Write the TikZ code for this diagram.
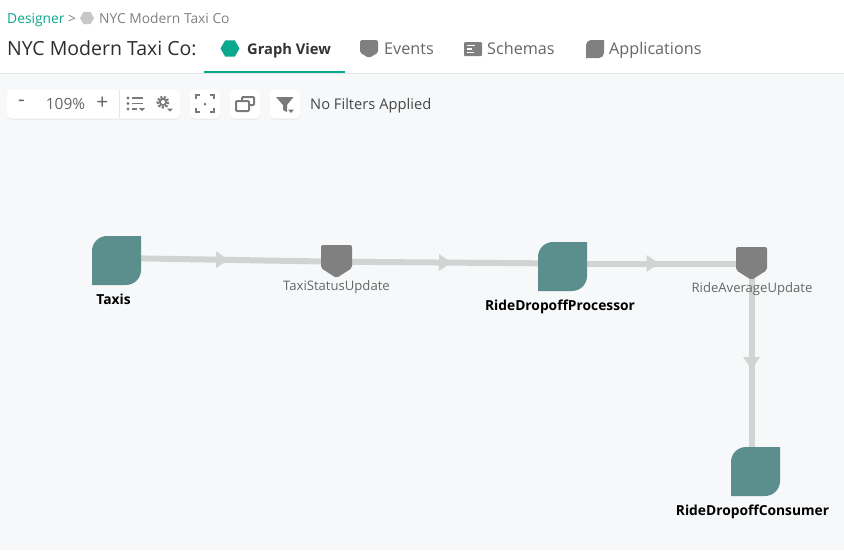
\documentclass[tikz,border=0pt]{standalone}
\usepackage{fontspec}
\setmainfont{Open Sans}
\usetikzlibrary{calc,shapes.geometric,shadows,decorations.markings}

\definecolor{appteal}{HTML}{5B8F8D}
\definecolor{brandteal}{HTML}{0AA88E}
\definecolor{wiregray}{HTML}{D2D4D4}
\definecolor{iconfill}{HTML}{808080}
\definecolor{pagegray}{HTML}{F6F8FA}
\definecolor{rulegray}{HTML}{E4E6E6}
\definecolor{tabtext}{HTML}{666666}
\definecolor{toolicon}{HTML}{7A7A7A}

\tikzset{
    appnode/.style={minimum size=49pt, inner sep=0pt, outer sep=0pt},
    eventnode/.style={minimum width=31pt, minimum height=33pt, inner sep=0pt, outer sep=0pt},
    applabel/.style={font=\fontsize{13.8}{16}\selectfont\bfseries, text=black, inner sep=0pt, anchor=base},
    eventlabel/.style={font=\fontsize{13.1}{15}\selectfont, text=tabtext, inner sep=0pt, anchor=base},
    crumblabel/.style={font=\fontsize{13.8}{16}\selectfont, text=iconfill, inner sep=0pt, anchor=base west},
    tablabel/.style={font=\fontsize{16.2}{19}\selectfont, text=tabtext, inner sep=0pt, anchor=base west},
    iconbox/.style={minimum size=18pt, inner sep=0pt, outer sep=0pt},
    toolbox/.style={fill=white, rounded corners=4pt, minimum height=29pt, inner sep=0pt,
        drop shadow={opacity=.14, shadow xshift=0pt, shadow yshift=-1pt}},
    toolglyph/.style={font=\fontsize{15.5}{18}\selectfont, text=tabtext, inner sep=0pt},
    wire/.style={draw=wiregray, line width=6pt,
        postaction={decorate, decoration={markings, mark=at position .5 with {
            \fill[wiregray] (-10.5pt,-8.5pt) -- (2pt,0pt) -- (-10.5pt,8.5pt) -- cycle;}}}}
}

% #1 colour, #2 node, #3 corner radius
\newcommand{\appleaf}[3][appteal]{
    \fill[#1] (#2.south west) [rounded corners=#3] -- (#2.north west) [sharp corners] -- (#2.north east)
        [rounded corners=#3] -- (#2.south east) [sharp corners] -- cycle;
}
\newcommand{\eventtag}[2]{
    \fill[iconfill, rounded corners=#2] (#1.north west) -- (#1.north east)
        -- ($(#1.south east)!.3!(#1.north east)$) -- (#1.south)
        -- ($(#1.south west)!.3!(#1.north west)$) -- cycle;
}

\begin{document}
\begin{tikzpicture}[x=1pt, y=-1pt]
    \useasboundingbox (0,0) rectangle (844,550);
    \fill[white] (0,0) rectangle (844,73);
    \fill[pagegray] (0,73) rectangle (844,550);
    \draw[rulegray] (0,73.2) -- (844,73.2);
    \fill[brandteal] (204,71.2) rectangle (345,73.4);

    % breadcrumb and title
    \node[crumblabel, text=brandteal] (designer) at (7,23) {Designer};
    \node[crumblabel] (crumbsep) at (68,23) {>};
    \node[regular polygon, regular polygon sides=6, fill=black!22, minimum size=14pt, inner sep=0pt] (crumbicon) at (87,18) {};
    \node[crumblabel] (crumbname) at (99,23) {NYC Modern Taxi Co};
    \node[inner sep=0pt, anchor=base west, text=black!82, font=\fontsize{19.5}{22}\selectfont] (title) at (7,55) {NYC Modern Taxi Co:};

    % tabs
    \node[regular polygon, regular polygon sides=6, fill=brandteal, minimum size=19pt, inner sep=0pt] (graphicon) at (230,48.5) {};
    \node[tablabel, text=black!80, font=\fontsize{14.7}{17}\selectfont\bfseries] (graphtab) at (247,54) {Graph View};
    \node[iconbox] (eventsicon) at (369,49) {};
    \eventtag{eventsicon}{1.5pt}
    \node[tablabel] (eventstab) at (384,54) {Events};
    \node[iconbox, minimum height=14pt, fill=iconfill, rounded corners=1pt] (schemasicon) at (473,49) {};
    \draw[white, line width=1.3pt] (467,45.5) -- (475,45.5) (467,49) -- (472,49) (467,52.5) -- (474,52.5);
    \node[tablabel] (schemastab) at (487,54) {Schemas};
    \node[iconbox] (appsicon) at (595,49) {};
    \appleaf[iconfill]{appsicon}{5pt}
    \node[tablabel] (appstab) at (609,54) {Applications};

    % toolbar
    \node[toolbox, minimum width=173pt] (zoombar) at (93.5,104) {};
    \node[toolbox, minimum width=30pt] (fitbox) at (205,104) {};
    \node[toolbox, minimum width=30pt] (layerbox) at (245,104) {};
    \node[toolbox, minimum width=30pt] (filterbox) at (285,104) {};
    \node[toolglyph, font=\fontsize{21}{24}\selectfont] (zoomout) at (21.5,103) {-};
    \node[toolglyph] (zoomlevel) at (65.5,104) {109\%};
    \node[toolglyph, font=\fontsize{21}{24}\selectfont] (zoomin) at (102.5,103.5) {+};
    \draw[rulegray] (119.5,90) -- (119.5,118);
    \foreach \y/\e in {98/143,103.5/143,109/137} {
        \fill[toolicon] (128,\y) circle (1.7);
        \draw[toolicon, line width=1.6pt] (132,\y) -- (\e,\y);
    }
    \fill[toolicon] (139,108) -- (145,108) -- (142,111) -- cycle;
    \draw[toolicon, line width=3pt, dash pattern=on 2pt off 1.4pt] (163,102) circle (5);
    \fill[toolicon] (163,102) circle (4);
    \fill[white] (163,102) circle (2);
    \fill[toolicon] (167,108.5) -- (173,108.5) -- (170,111.5) -- cycle;
    \draw[toolicon, line width=2pt]
        (196,99) -- (196,95) -- (200,95) (210,95) -- (214,95) -- (214,99)
        (214,108) -- (214,112) -- (210,112) (200,112) -- (196,112) -- (196,108);
    \fill[toolicon] (205,104) circle (1.5);
    \draw[toolicon, line width=2pt, rounded corners=1pt]
        (242,101) -- (242,97) -- (254,97) -- (254,105) -- (250,105);
    \draw[toolicon, line width=2pt, rounded corners=1pt] (236,101) rectangle (249,111);
    \fill[toolicon] (276,97) -- (293.5,97) -- (287,105) -- (287,112) -- (283,110) -- (283,105) -- cycle;
    \fill[toolicon] (288,109.5) -- (294,109.5) -- (291,113) -- cycle;
    \node[anchor=base west, inner sep=0pt, text=black!72, font=\fontsize{14.7}{17}\selectfont] (filterstate) at (310,109) {No Filters Applied};

    % graph
    \node[appnode] (taxis) at (116.5,260.5) {};
    \node[eventnode] (statusupdate) at (336.5,261.5) {};
    \node[appnode] (processor) at (562.5,266.5) {};
    \node[eventnode] (averageupdate) at (751.5,263.5) {};
    \node[appnode] (consumer) at (755.5,471.5) {};

    \draw[wire] ([yshift=2.5pt]taxis.center) -- ([yshift=-.2pt]statusupdate.center);
    \draw[wire] ([yshift=-.2pt]statusupdate.center) -- ([yshift=3pt]processor.center);
    \draw[wire] ([yshift=3pt]processor.center) -- (averageupdate.center);
    \draw[wire] (averageupdate.center) -- (averageupdate.center |- consumer.center);

    \appleaf{taxis}{15pt}
    \appleaf{processor}{15pt}
    \appleaf{consumer}{15pt}
    \eventtag{statusupdate}{2pt}
    \eventtag{averageupdate}{2pt}

    \node[applabel] (taxislabel) at (113.5,304) {Taxis};
    \node[eventlabel] (statuslabel) at (336.5,290.5) {TaxiStatusUpdate};
    \node[applabel] (processorlabel) at (560,310) {RideDropoffProcessor};
    \node[eventlabel] (averagelabel) at (752,292) {RideAverageUpdate};
    \node[applabel] (consumerlabel) at (752.5,515) {RideDropoffConsumer};
\end{tikzpicture}
\end{document}
